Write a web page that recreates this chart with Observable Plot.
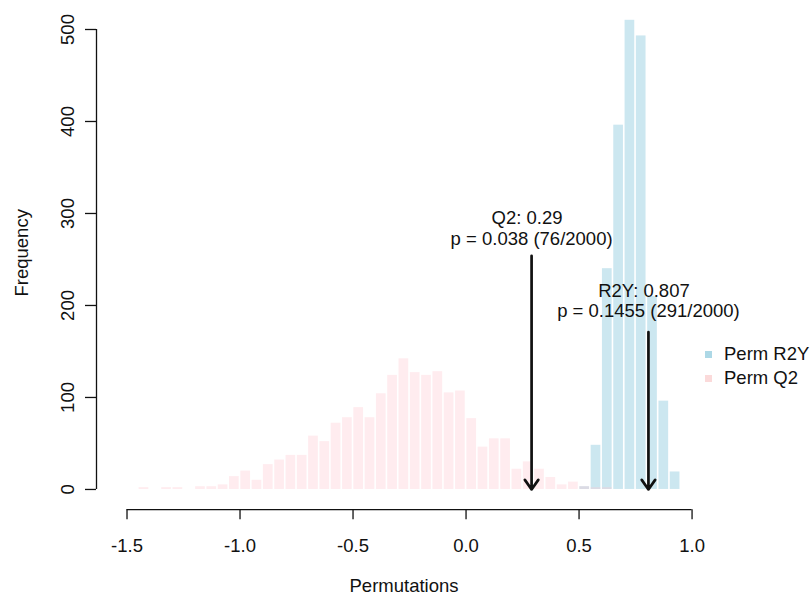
<!DOCTYPE html>
<html><head><meta charset="utf-8">
<script src="https://cdn.jsdelivr.net/npm/d3@7"></script>
<script src="https://cdn.jsdelivr.net/npm/@observablehq/plot@0.6"></script>
<style>
body{margin:0;background:#fff;font-family:"Liberation Sans",Arial,sans-serif;}
#wrap{position:relative;width:811px;height:596px;}
#legend{position:absolute;left:705px;top:342px;font-size:18.5px;color:#111;line-height:24px;}
#legend .row{display:flex;align-items:center;height:24px;}
#legend .sw{width:7px;height:7px;margin-right:12px;}
</style></head><body><div id="wrap"></div>
<script>
// ---- data ----
const binWidth = 0.05;
const q2BinStarts = [-1.45,-1.40,-1.35,-1.30,-1.25,-1.20,-1.15,-1.10,-1.05,-1.00,-0.95,-0.90,-0.85,-0.80,-0.75,-0.70,-0.65,-0.60,-0.55,-0.50,-0.45,-0.40,-0.35,-0.30,-0.25,-0.20,-0.15,-0.10,-0.05,0.00,0.05,0.10,0.15,0.20,0.25,0.30,0.35,0.40,0.45,0.50,0.55,0.60];
const q2Counts    = [2,0,2,2,0,3,3,5,14,20,10,27,32,37,37,58,52,72,78,89,78,104,124,142,127,124,128,105,107,77,46,55,55,22,30,22,13,5,8,3,2,2];
const r2yBinStarts = [0.50,0.55,0.60,0.65,0.70,0.75,0.80,0.85,0.90];
const r2yCounts    = [3,48,240,396,510,493,210,96,19];
const xTicks = [-1.5,-1.0,-0.5,0.0,0.5,1.0];
const yTicks = [0,100,200,300,400,500];
const annValues = [0.29, 0.807];
const annLine1 = ["Q2: 0.29", "R2Y: 0.807"];
const annLine2 = ["p = 0.038 (76/2000)", "p = 0.1455 (291/2000)"];
const annLine1Y = [294.6, 215.8];
const annLine2Y = [271.7, 193.5];
const arrowTop = [254, 171];
const arrowBottom = [0, 0];
const legendLabels = ["Perm R2Y", "Perm Q2"];
const legendColors = ["#add8e6", "#fbdada"];

// ---- tables ----
const q2 = q2BinStarts.map((s,i)=>({x1:s, x2:s+binWidth, count:q2Counts[i]}));
const r2y = r2yBinStarts.map((s,i)=>({x1:s, x2:s+binWidth, count:r2yCounts[i]}));
const ann = annValues.map((v,i)=>({x:v, l1:annLine1[i], l2:annLine2[i], y1:annLine1Y[i], y2:annLine2Y[i], top:arrowTop[i], bottom:arrowBottom[i]}));

const xDomain = [-1.635, 1.086];
const yDomain = [-22, 530];
const fs = 18.5;

const chart = Plot.plot({
  width: 811, height: 596,
  marginLeft: 96, marginRight: 100, marginTop: 1.4, marginBottom: 86.8,
  style: {fontFamily: "'Liberation Sans', Arial, sans-serif", fontSize: fs+"px", color: "#111", background: "#fff"},
  x: {domain: xDomain},
  y: {domain: yDomain},
  marks: [
    Plot.rectY(r2y, {x1:"x1", x2:"x2", y:"count", fill:"lightblue", fillOpacity:0.62, insetLeft:0.8, insetRight:0.8}),
    Plot.rectY(q2, {x1:"x1", x2:"x2", y:"count", fill:"pink", fillOpacity:0.3, insetLeft:0.8, insetRight:0.8}),
    Plot.arrow(ann, {x1:"x", x2:"x", y1:"top", y2:"bottom", stroke:"#111", strokeWidth:2.7, headAngle:70, headLength:6.5}),
    Plot.text(ann, {x:"x", y:"y1", text:"l1", dx:-4.5, fill:"#111", fontSize:fs}),
    Plot.text(ann, {x:"x", y:"y2", text:"l2", fill:"#111", fontSize:fs}),
    // axes (R style)
    Plot.ruleX([xDomain[0]], {y1: yTicks[0], y2: yTicks[yTicks.length-1], stroke:"#111", strokeWidth:1.3}),
    Plot.ruleY([yDomain[0]], {x1: xTicks[0], x2: xTicks[xTicks.length-1], stroke:"#111", strokeWidth:1.3}),
    Plot.axisY({ticks: yTicks, tickSize: 11, tickPadding: 12, tickRotate: -90, strokeWidth: 1.3, label: null, fontSize: fs}),
    Plot.axisX({ticks: xTicks, tickSize: 10, tickPadding: 19, strokeWidth: 1.3, tickFormat: d => d.toFixed(1), label: null, fontSize: fs}),
    Plot.text(["Frequency"], {frameAnchor: "left", rotate: -90, textAnchor: "middle", lineAnchor: "middle", dx: -74, dy: -3, fill:"#111", fontSize: fs}),
    Plot.text(["Permutations"], {frameAnchor: "bottom", textAnchor: "middle", lineAnchor: "middle", dy: 76, fill:"#111", fontSize: fs})
  ]
});
const wrap = document.getElementById("wrap");
wrap.appendChild(chart);
const leg = document.createElement("div");
leg.id = "legend";
legendLabels.forEach((l,i)=>{
  const row = document.createElement("div"); row.className="row";
  const sw = document.createElement("span"); sw.className="sw"; sw.style.background = legendColors[i];
  const t = document.createElement("span"); t.textContent = l;
  row.appendChild(sw); row.appendChild(t); leg.appendChild(row);
});
wrap.appendChild(leg);
</script></body></html>
